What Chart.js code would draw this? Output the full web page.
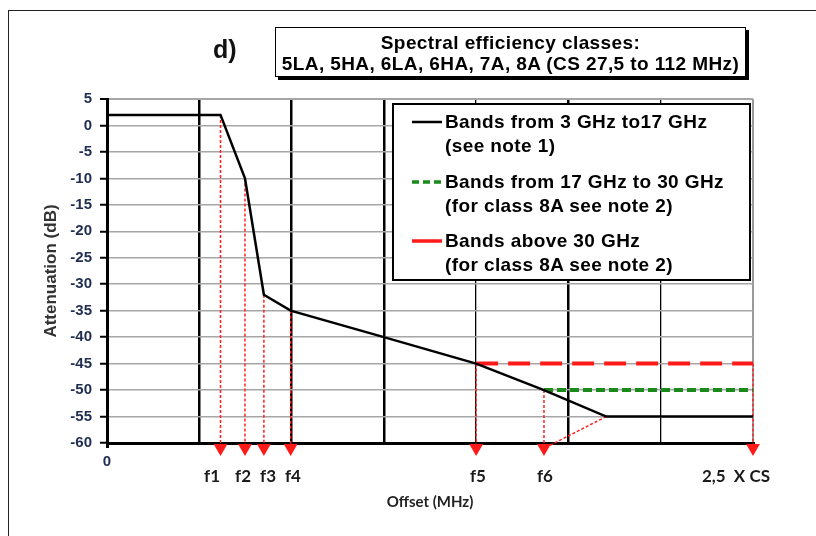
<!DOCTYPE html>
<html>
<head>
<meta charset="utf-8">
<script src="https://cdn.jsdelivr.net/npm/chart.js@4.4.1/dist/chart.umd.min.js"></script>
<style>
html,body{margin:0;padding:0;background:#fff;width:816px;height:536px;overflow:hidden;}
#wrap{position:relative;width:816px;height:536px;}
canvas{position:absolute;left:0;top:0;}
#frame{position:absolute;left:8px;top:10px;width:900px;height:700px;border:1.5px solid #222;box-sizing:border-box;}
#panel{position:absolute;left:213px;top:34px;font:bold 25px "Liberation Sans",Arial,sans-serif;line-height:30px;color:#111;}
#titlebox{position:absolute;left:275px;top:27px;width:471px;height:50px;box-sizing:border-box;border:1.5px solid #000;box-shadow:3px 3px 0 #000;background:#fff;text-align:center;padding-top:4px;font:bold 19px "Liberation Sans",Arial,sans-serif;line-height:21px;letter-spacing:0.4px;color:#000;white-space:nowrap;}
#legend{position:absolute;left:392px;top:103px;width:359px;height:178px;box-sizing:border-box;border:2px solid #000;background:#fff;padding-top:5px;font:bold 19px "Liberation Sans",Arial,sans-serif;line-height:24px;letter-spacing:0.4px;color:#000;}
.item{display:flex;height:48px;margin-bottom:11.5px;padding-left:18px;}
.item svg{flex:0 0 30px;height:24px;margin-right:3px;}
.item div{white-space:pre;}
</style>
</head>
<body>
<div id="wrap">
  <canvas id="c" width="816" height="536"></canvas>
  <div id="frame"></div>
  <div id="panel">d)</div>
  <div id="titlebox">Spectral efficiency classes:<br>5LA, 5HA, 6LA, 6HA, 7A, 8A (CS 27,5 to 112 MHz)</div>
  <div id="legend"></div>
</div>
<script>
// ---- data ----
const seriesNames = [
  'Bands from 3 GHz to17 GHz\n(see note 1)',
  'Bands from 17 GHz to 30 GHz\n(for class 8A see note 2)',
  'Bands above 30 GHz\n(for class 8A see note 2)'
];
const maskX = [0, 1.23, 1.495, 1.70, 1.99, 3, 4, 4.735, 5.41, 7];
const maskY = [2, 2, -10, -32, -35, -40, -45, -50, -55, -55];
const greenX = [4.735, 7];
const greenY = [-50, -50];
const redX = [4, 7];
const redY = [-45, -45];
const arrowX = [1.23, 1.495, 1.70, 1.99, 4, 4.735, 7];
const arrowFromY = [2, -10, -32, -35, -45, -50, -45];
const arrowTipY = -60.95;
const arrowEndY = -60.6;
const diagX = [5.41, 4.76];
const diagY = [-55, -60.8];
const xTickLabels = ['0', '', '', '', '', '', '', ''];
const fTickPos = [1.138, 1.474, 1.745, 2.015, 4.02, 4.746, 6.815];
const fTickLabels = ['f1', 'f2', 'f3', 'f4', 'f5', 'f6', '2,5  X CS'];
const yTickMin = -60, yTickMax = 5, yStep = 5;

// ---- build ----
const pts = (xs, ys) => xs.map((x, i) => ({x: x, y: ys[i]}));
const dropPts = [];
arrowX.forEach((x, i) => {
  dropPts.push({x: x, y: arrowFromY[i]}, {x: x, y: arrowEndY}, {x: x, y: null});
});
dropPts.push(...pts(diagX, diagY));
const tipPts = arrowX.map(x => ({x: x, y: arrowTipY}));

const vGridWidth = [3, 2.5, 2.5, 2.5, 1.3, 2.5, 1.3, 2];
const vGridColor = ['#000', '#000', '#000', '#000', '#000', '#000', '#000', '#9a9a9a'];

const chart = new Chart(document.getElementById('c'), {
  type: 'line',
  data: {
    datasets: [
      {label: seriesNames[0], data: pts(maskX, maskY), borderColor: '#000', borderWidth: 2.5, pointRadius: 0, tension: 0, order: 1},
      {label: seriesNames[1], data: pts(greenX, greenY), borderColor: '#1a8a1a', borderWidth: 4, borderDash: [9, 4], pointRadius: 0, order: 2},
      {label: seriesNames[2], data: pts(redX, redY), borderColor: '#ff1a1a', borderWidth: 4, borderDash: [22, 10], pointRadius: 0, order: 3},
      {label: 'drops', data: dropPts, borderColor: '#ff2020', borderWidth: 1.5, borderDash: [3, 2], pointRadius: 0, spanGaps: false, clip: false, order: 4},
      {label: 'arrows', data: tipPts, showLine: false, pointStyle: 'triangle', pointRotation: 180, pointRadius: 8, pointBackgroundColor: '#ff1a1a', pointBorderWidth: 0, clip: false, order: 0}
    ]
  },
  options: {
    responsive: false,
    animation: false,
    devicePixelRatio: 1,
    layout: {padding: {left: 37, right: 63, top: 99, bottom: 21}},
    plugins: {legend: {display: false}, tooltip: {enabled: false}, title: {display: false}},
    scales: {
      x: {
        type: 'linear', position: 'bottom', min: 0, max: 7,
        afterFit: s => { s.height = 25; },
        ticks: {stepSize: 1, autoSkip: false, maxRotation: 0, padding: 5,
          callback: (v, i) => xTickLabels[i],
          font: {family: '"Liberation Sans", Arial, sans-serif', size: 15, weight: 'bold'}, color: '#1f2d50'},
        grid: {color: c => vGridColor[c.index] || '#000', lineWidth: c => vGridWidth[c.index] || 1,
          drawTicks: true, tickLength: 5, tickWidth: 3,
          tickColor: c => c.index === 0 ? '#000' : 'rgba(0,0,0,0)'},
        border: {display: true, color: '#000', width: 3}
      },
      x2: {
        type: 'linear', position: 'bottom', min: 0, max: 7,
        afterFit: s => { s.height = 47; },
        afterBuildTicks: s => { s.ticks = fTickPos.map(v => ({value: v})); },
        ticks: {autoSkip: false, maxRotation: 0, padding: 0,
          callback: (v, i) => fTickLabels[i],
          font: {family: 'Lato, sans-serif', size: 17, weight: 'bold', lineHeight: 1}, color: '#1a1a1a'},
        grid: {display: false, drawTicks: false},
        border: {display: false},
        title: {display: true, text: 'Offset (MHz)', color: '#222',
          font: {family: 'Lato, sans-serif', size: 15, weight: 'bold'}, padding: {top: 4, bottom: 4}}
      },
      y: {
        min: yTickMin, max: yTickMax,
        afterFit: s => { s.width = 70; },
        ticks: {stepSize: yStep, padding: 8,
          font: {family: '"Liberation Sans", Arial, sans-serif', size: 15, weight: 'bold'}, color: '#1f2d50'},
        grid: {color: '#a6a6a6', lineWidth: c => c.tick && c.tick.value === yTickMax ? 2 : 1.5,
          drawTicks: true, tickLength: 7, tickWidth: 2, tickColor: '#000'},
        border: {display: true, color: '#000', width: 3},
        title: {display: true, text: 'Attenuation (dB)', color: '#333',
          font: {family: '"Liberation Sans", Arial, sans-serif', size: 17, weight: 'bold'}, padding: {top: 4, bottom: 4}}
      }
    }
  }
});

// HTML legend built from the chart's series
const legendSamples = [
  '<svg viewBox="0 0 30 24"><line x1="0" y1="12" x2="30" y2="12" stroke="#000" stroke-width="2.5"/></svg>',
  '<svg viewBox="0 0 30 24"><line x1="0" y1="12" x2="30" y2="12" stroke="#1a8a1a" stroke-width="3.5" stroke-dasharray="7,4"/></svg>',
  '<svg viewBox="0 0 30 24"><line x1="0" y1="12" x2="30" y2="12" stroke="#ff1a1a" stroke-width="3.5"/></svg>'
];
const leg = document.getElementById('legend');
chart.data.datasets.slice(0, 3).forEach((ds, i) => {
  const it = document.createElement('div');
  it.className = 'item';
  it.innerHTML = legendSamples[i];
  const t = document.createElement('div');
  t.textContent = ds.label;
  it.appendChild(t);
  leg.appendChild(it);
});
</script>
</body>
</html>
